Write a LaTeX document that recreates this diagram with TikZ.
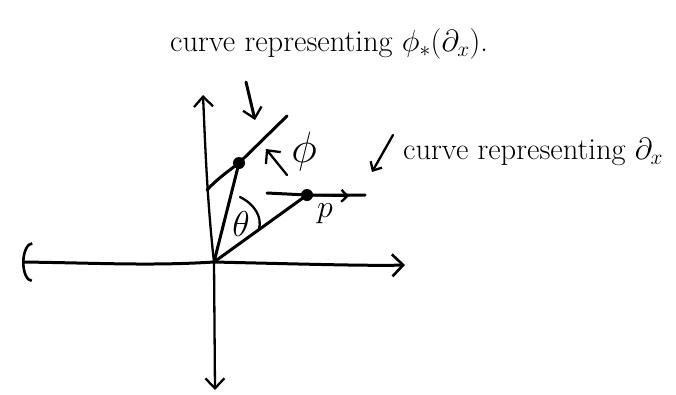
\RequirePackage{fix-cm}
\documentclass[tikz,border=0pt]{standalone}
\usetikzlibrary{arrows.meta}
\begin{document}
\begin{tikzpicture}[x=1pt,y=-1pt,
  pen/.style={line width=3pt,line cap=round,line join=round},
  thinpen/.style={line width=2.3pt,line cap=round,line join=round},
  barb/.style={-{Straight Barb[length=10pt,width=19pt,line width=2.3pt]}},
  dot/.style={circle,fill,inner sep=0pt,minimum size=12pt},
  lab/.style={font=\fontsize{30.5}{34}\selectfont},
  symlab/.style={font=\fontsize{36}{40}\selectfont,inner sep=0pt}]
\useasboundingbox (0,0) rectangle (676,394);
% axes
\coordinate (O) at (214,262);
\coordinate (L) at (22,262);
\coordinate (R) at (405,265);
\coordinate (T) at (203,95);
\coordinate (B) at (215,390);
\draw[pen,{Arc Barb[length=10pt,width=40pt,line width=2.6pt]}-{Straight Barb[length=11pt,width=22pt,line width=2.6pt]}]
  (L) .. controls (100,263) and (150,266) .. (O) .. controls (300,264) and (370,266) .. (R);
\draw[thinpen,barb] (O) .. controls (207,200) and (205,140) .. (T);
\draw[thinpen,barb] (O) -- (B);
% points
\node[dot] (A) at (239,163) {};
\node[dot] (P) at (307,195) {};
% curve phi_*(d_x)
\coordinate (C1) at (207,190);
\coordinate (C2) at (287,116);
\draw[pen] (C1) .. controls (218,178) and (230,170) .. (A.center) -- (C2);
% radial lines
\draw[pen] (O) -- (A.center);
\draw[pen] (O) -- (P.center);
% curve through P
\coordinate (H1) at (267,193);
\coordinate (H2) at (365,195);
\coordinate (HA) at (349,196);
\draw[pen] (H1) -- (P.center) -- (H2);
\draw[thinpen,-{Straight Barb[length=6pt,width=12pt,line width=2.3pt]}] (P.center) -- (HA);
% theta arc
\coordinate (Th1) at (240,197);
\coordinate (Th2) at (259,229);
\draw[thinpen] (Th1) .. controls (256,205) and (262,218) .. (Th2);
\node[symlab] (theta) at (241,224) {$\theta$};
\node[symlab,font=\fontsize{32}{36}\selectfont] (plab) at (325,214) {$p$};
% phi arrow and label
\coordinate (PA1) at (287,175);
\coordinate (PA2) at (266,149);
\draw[thinpen,barb] (PA1) -- (PA2);
\node[symlab,font=\fontsize{44}{48}\selectfont] (phi) at (304,151) {$\phi$};
% big down arrow
\coordinate (DA1) at (246,82);
\coordinate (DA2) at (255,120);
\draw[pen,barb] (DA1) -- (DA2);
% labels
\node[lab,anchor=west,inner sep=0pt] (toptext) at (170,44) {curve representing $\phi_*(\partial_x)$.};
\coordinate (CA1) at (393,135);
\coordinate (CA2) at (372,172);
\draw[thinpen,-{Straight Barb[length=7pt,width=13pt,line width=2.3pt]}] (CA1) -- (CA2);
\node[lab,anchor=west,inner sep=0pt] (righttext) at (403,152) {curve representing $\partial_x$};
\end{tikzpicture}
\end{document}
